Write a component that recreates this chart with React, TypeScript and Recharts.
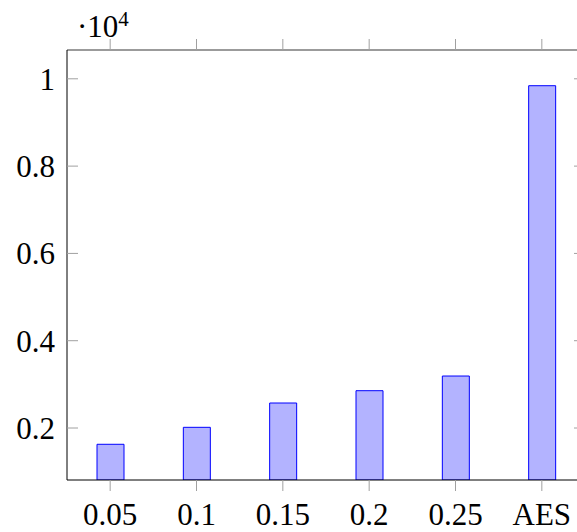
import React from 'react';
import { BarChart, Bar, XAxis, YAxis } from 'recharts';

const categories = ['0.05', '0.1', '0.15', '0.2', '0.25', 'AES'];
const values = [1627, 2016, 2573, 2855, 3191, 9842];
const yTicks = [2000, 4000, 6000, 8000, 10000];
const yDomain = [809, 10660];

const data = categories.map((name, i) => ({ name, value: values[i] }));

const FONT = '"Liberation Serif", serif';
const tickStyle = { fontSize: 31, fontFamily: FONT, fill: '#000' };
const emptyTick = () => <g />;

export default function App() {
  return (
    <div style={{ position: 'absolute', left: 0, top: 0, width: 577, height: 532, overflow: 'hidden', background: '#fff' }}>
      <BarChart width={600} height={532} data={data} margin={{ top: 0, right: 0, bottom: 0, left: 0 }} barSize={27}>
        <XAxis
          dataKey="name"
          xAxisId="bottom"
          orientation="bottom"
          height={52}
          tickSize={11}
          tickMargin={12}
          tick={tickStyle}
          axisLine={{ stroke: '#000', strokeWidth: 1 }}
          tickLine={{ stroke: '#a0a0a0', strokeWidth: 1 }}
          interval={0}
        />
        <XAxis
          dataKey="name"
          xAxisId="top"
          orientation="top"
          height={50}
          tickSize={11}
          tick={emptyTick}
          axisLine={{ stroke: '#7a7a7a', strokeWidth: 1.3 }}
          tickLine={{ stroke: '#a0a0a0', strokeWidth: 1 }}
          interval={0}
        />
        <YAxis
          yAxisId="left"
          orientation="left"
          width={67}
          domain={yDomain}
          allowDataOverflow
          ticks={yTicks}
          tickFormatter={(v: number) => String(v / 10000)}
          tickSize={-11}
          tickMargin={23}
          tick={tickStyle}
          axisLine={{ stroke: '#000', strokeWidth: 1 }}
          tickLine={{ stroke: '#a0a0a0', strokeWidth: 1 }}
        />
        <YAxis
          yAxisId="right"
          orientation="right"
          width={15}
          domain={yDomain}
          allowDataOverflow
          ticks={yTicks}
          tickSize={-11}
          tick={emptyTick}
          axisLine={{ stroke: '#7a7a7a', strokeWidth: 1.3 }}
          tickLine={{ stroke: '#a0a0a0', strokeWidth: 1 }}
        />
        <Bar
          dataKey="value"
          xAxisId="bottom"
          yAxisId="left"
          fill="#b3b3ff"
          stroke="#0000ff"
          strokeWidth={1}
          isAnimationActive={false}
        />
      </BarChart>
      <svg width={200} height={50} style={{ position: 'absolute', left: 0, top: 0 }}>
        <text x={77} y={37} fontFamily={FONT} fontSize={31} fill="#000">
          ·10<tspan fontSize={21} dy={-11}>4</tspan>
        </text>
      </svg>
    </div>
  );
}
